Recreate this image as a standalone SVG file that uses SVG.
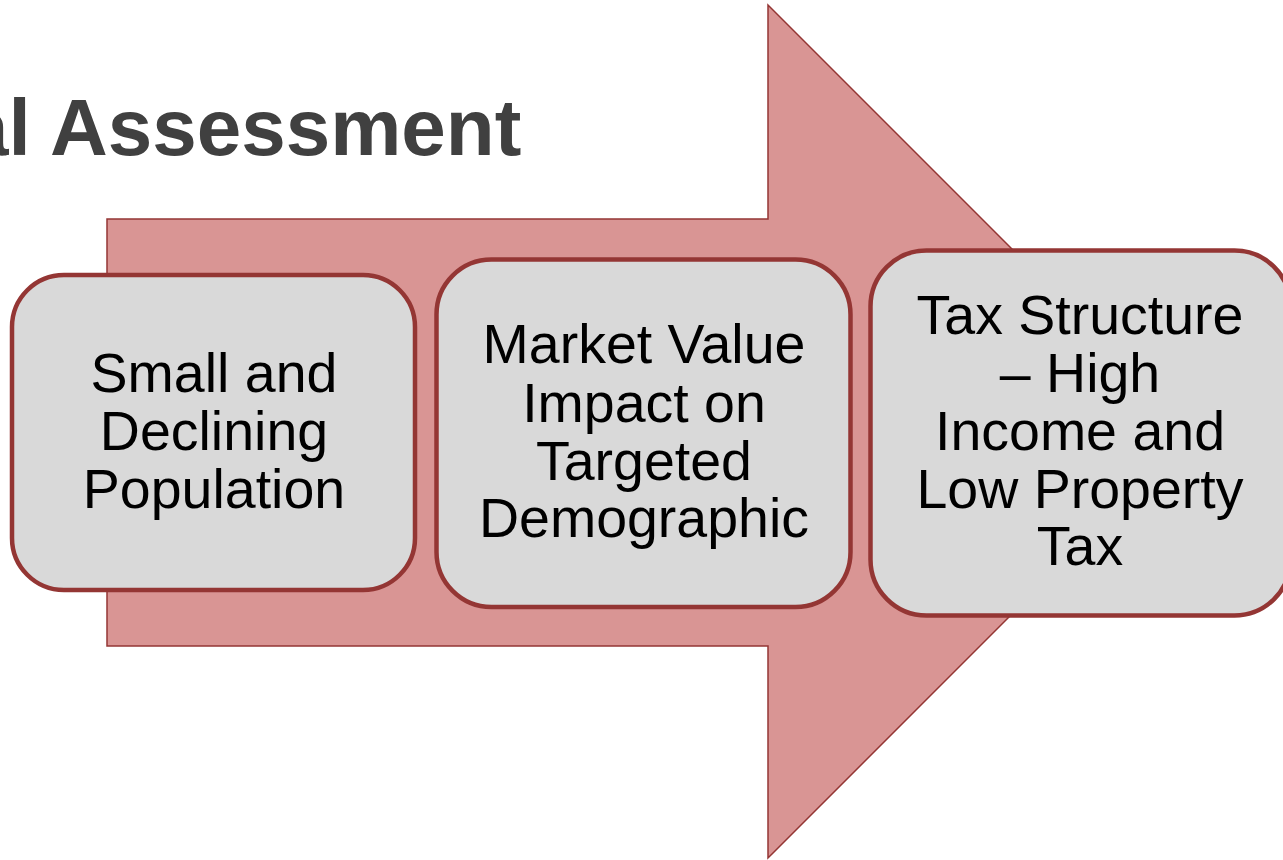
<svg xmlns="http://www.w3.org/2000/svg" width="1283" height="860" viewBox="0 0 1283 860">
<style>
.title{font-family:"Liberation Sans",Arial,sans-serif;font-weight:bold;font-size:80px;fill:#404040}
.box{fill:#d9d9d9;stroke:#943634;stroke-width:4.5}
.lbl{font-family:"Liberation Sans",Arial,sans-serif;font-size:55.5px;fill:#000;text-anchor:middle}
.arrow{fill:#d99594;stroke:#943634;stroke-width:1.5}
</style>
<rect width="1283" height="860" fill="#ffffff"/>
<text class="title" x="-36" y="155">al Assessment</text>
<g id="connectors">
<polygon id="big-arrow" class="arrow" points="107,219 768,219 768,5 1194.5,431.5 768,858 768,646 107,646"/>
</g>
<g id="node1">
<rect class="box" x="12" y="275" width="403" height="315" rx="52" ry="52"/>
<text class="lbl"><tspan x="214" y="392">Small and</tspan><tspan x="214" y="450">Declining</tspan><tspan x="214" y="508">Population</tspan></text>
</g>
<g id="node2">
<rect class="box" x="436.5" y="259.5" width="414" height="347.5" rx="55" ry="55"/>
<text class="lbl"><tspan x="644" y="363">Market Value</tspan><tspan x="644" y="422">Impact on</tspan><tspan x="644" y="480">Targeted</tspan><tspan x="644" y="537">Demographic</tspan></text>
</g>
<g id="node3">
<rect class="box" x="870.5" y="250.5" width="420" height="365" rx="56" ry="56"/>
<text class="lbl"><tspan x="1080" y="334">Tax Structure</tspan><tspan x="1080" y="392">– High</tspan><tspan x="1080" y="450">Income and</tspan><tspan x="1080" y="508">Low Property</tspan><tspan x="1080" y="565">Tax</tspan></text>
</g>
</svg>
